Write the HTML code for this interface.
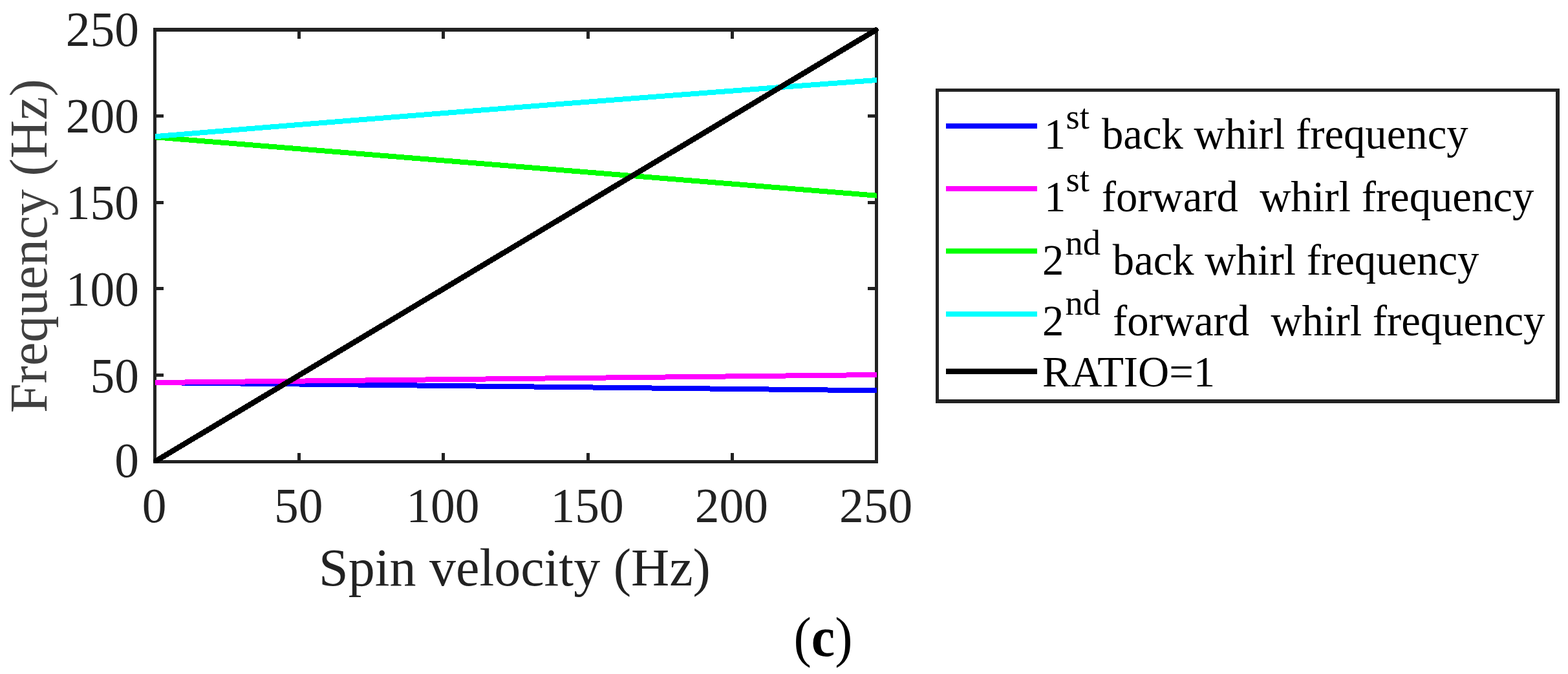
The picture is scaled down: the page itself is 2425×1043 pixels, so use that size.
<!DOCTYPE html>
<html>
<head>
<meta charset="utf-8">
<style>
html,body{margin:0;padding:0;background:#fff;}
body{width:2425px;height:1043px;overflow:hidden;}
svg{display:block;}
text{font-family:"Liberation Serif","Times New Roman",serif;font-kerning:normal;white-space:pre;}
</style>
</head>
<body>
<svg width="2425" height="1043" viewBox="0 0 2425 1043">
<rect x="0" y="0" width="2425" height="1043" fill="#fff"/>

<!-- axes box -->
<g stroke="#222" stroke-width="5" fill="none" shape-rendering="crispEdges">
<rect x="239.5" y="45.5" width="1116" height="669"/>
<path d="M237 48.5H1358" stroke-width="1"/>
<!-- x ticks bottom/top -->
<path d="M462.7 714.5V701M685.9 714.5V701M909.1 714.5V701M1132.3 714.5V701
M462.7 45.5V60M685.9 45.5V60M909.1 45.5V60M1132.3 45.5V60
M239.5 580.7H253M239.5 446.9H253M239.5 313.1H253M239.5 179.3H253
M1355.5 580.7H1342M1355.5 446.9H1342M1355.5 313.1H1342M1355.5 179.3H1342"/>
</g>

<!-- data lines -->
<g fill="none" stroke-width="8" stroke-linecap="butt" shape-rendering="crispEdges">
<path d="M240 592.05L1356 604.35" stroke="#0000ff"/>
<path d="M240 592L1356 580" stroke="#ff00ff"/>
<path d="M240 212.3L1356 302.7" stroke="#00ff00"/>
<path d="M240 211.2L400 198L560 185.1L720 172.4L880 159.9L1040 147.6L1200 135.5L1356 124" stroke="#00ffff" stroke-linejoin="round"/>
<path d="M241.3 713.2L1354.5 46.5" stroke="#000" stroke-width="8.5" stroke-linecap="round"/>
</g>

<!-- y tick labels -->
<g fill="#222" font-size="75.5" text-anchor="end">
<text x="215" y="71.3">250</text>
<text x="215" y="205.1">200</text>
<text x="215" y="338.9">150</text>
<text x="215" y="472.7">100</text>
<text x="215" y="606.5">50</text>
<text x="215" y="738.3">0</text>
</g>
<!-- x tick labels -->
<g fill="#222" font-size="75.5" text-anchor="middle">
<text x="238.5" y="807.9">0</text>
<text x="461.7" y="807.9">50</text>
<text x="684.9" y="807.9">100</text>
<text x="908.1" y="807.9">150</text>
<text x="1131.3" y="807.9">200</text>
<text x="1354.5" y="807.9">250</text>
</g>

<!-- axis labels -->
<text x="796" y="906" font-size="82" fill="#222" text-anchor="middle">Spin velocity (Hz)</text>
<text transform="translate(71.7 639) rotate(-90)" x="0" y="0" font-size="82" fill="#404040">Frequency (Hz)</text>

<!-- legend -->
<rect x="1447" y="137" width="965" height="487" fill="#222"/>
<rect x="1452" y="142" width="954" height="476" fill="#fff"/>
<g stroke-width="8">
<path d="M1463 195H1604" stroke="#0000ff"/>
<path d="M1463 292H1604" stroke="#ff00ff"/>
<path d="M1463 388.6H1604" stroke="#00ff00"/>
<path d="M1463 486H1604" stroke="#00ffff"/>
<path d="M1463 574.7H1604" stroke="#000" stroke-width="8.6"/>
</g>
<g fill="#000" font-size="66.7">
<text x="1614.8" y="230">1</text>
<text x="1648.5" y="198.5" font-size="54.5">st</text>
<text x="1704" y="230">back whirl frequency</text>

<text x="1614.9" y="326.8">1</text>
<text x="1648.6" y="296.1" font-size="54.5">st</text>
<text x="1703.8" y="326.8">forward  whirl frequency</text>

<text x="1611.9" y="424.8">2</text>
<text x="1647.5" y="393.5" font-size="54.5">nd</text>
<text x="1720.8" y="424.8">back whirl frequency</text>

<text x="1611.9" y="518.7">2</text>
<text x="1647.5" y="487.4" font-size="54.5">nd</text>
<text x="1721" y="518.7">forward  whirl frequency</text>

<text x="1611.9" y="597.8">RATIO=1</text>
</g>

<!-- panel label -->
<text x="1227.5" y="1015.5" font-size="82" fill="#000" transform="translate(0 1015.5) scale(1 1.05) translate(0 -1015.5)">(<tspan font-weight="bold">c</tspan>)</text>
</svg>
</body>
</html>
